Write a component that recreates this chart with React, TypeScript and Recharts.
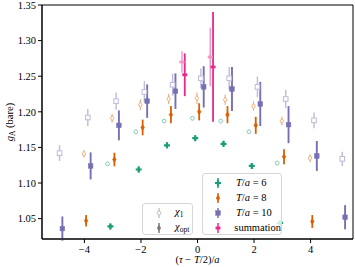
import React from 'react';
import { ScatterChart, Scatter, XAxis, YAxis, ErrorBar, ReferenceArea } from 'recharts';

// x positions are (tau - T/2)/a with the small plotting offsets used in the figure
const t6ChiOneX = [-3.18, -2.18, -1.18, -0.18, 0.82, 1.82, 2.82];
const t6ChiOneY = [1.127, 1.172, 1.187, 1.191, 1.187, 1.172, 1.128];
const t6ChiOneErr = [0.003, 0.003, 0.003, 0.003, 0.003, 0.003, 0.003];
const t6ChiOptX = [-3.08, -2.08, -1.08, -0.08, 0.92, 1.92, 2.92];
const t6ChiOptY = [1.039, 1.119, 1.153, 1.163, 1.155, 1.124, 1.044];
const t6ChiOptErr = [0.004, 0.004, 0.004, 0.004, 0.004, 0.004, 0.004];

const t8ChiOneX = [-4.02, -3.02, -2.02, -1.02, -0.02, 0.98, 1.98, 2.98, 3.98];
const t8ChiOneY = [1.141, 1.191, 1.21, 1.218, 1.219, 1.217, 1.208, 1.187, 1.135];
const t8ChiOneErr = [0.005, 0.006, 0.0075, 0.007, 0.008, 0.007, 0.0065, 0.006, 0.0055];
const t8ChiOptX = [-3.94, -2.94, -1.94, -0.94, 0.06, 1.06, 2.06, 3.06, 4.06];
const t8ChiOptY = [1.047, 1.133, 1.178, 1.196, 1.2, 1.196, 1.181, 1.137, 1.046];
const t8ChiOptErr = [0.008, 0.0095, 0.011, 0.012, 0.012, 0.012, 0.012, 0.0105, 0.009];

const t10ChiOneX = [-4.88, -3.88, -2.88, -1.88, -0.88, 0.12, 1.12, 2.12, 3.12, 4.12, 5.12];
const t10ChiOneY = [1.142, 1.192, 1.215, 1.228, 1.238, 1.247, 1.247, 1.235, 1.218, 1.188, 1.134];
const t10ChiOneErr = [0.011, 0.012, 0.012, 0.015, 0.0155, 0.014, 0.016, 0.0145, 0.013, 0.011, 0.01];
const t10ChiOptX = [-4.78, -3.78, -2.78, -1.78, -0.78, 0.22, 1.22, 2.22, 3.22, 4.22, 5.22];
const t10ChiOptY = [1.036, 1.124, 1.181, 1.215, 1.229, 1.235, 1.232, 1.211, 1.182, 1.138, 1.052];
const t10ChiOptErr = [0.017, 0.019, 0.021, 0.0235, 0.025, 0.029, 0.031, 0.031, 0.026, 0.021, 0.017];

const sumChiOneX = [-0.55, 0.45];
const sumChiOneY = [1.27, 1.277];
const sumChiOneErr = [0.015, 0.041];
const sumChiOptX = [-0.45, 0.55];
const sumChiOptY = [1.252, 1.263];
const sumChiOptErr = [0.03, 0.077];

const xTicks = [-4, -2, 0, 2, 4];
const yTicks = [1.05, 1.1, 1.15, 1.2, 1.25, 1.3, 1.35];

const SERIF = '"Liberation Serif", "DejaVu Serif", serif';

const toPoints = (xs: number[], ys: number[], es: number[]) =>
  xs.map((x, i) => ({ x, y: ys[i], e: es[i] }));

type MarkerKind = 'plus' | 'circle' | 'diamond' | 'square' | 'rect';

const Marker = ({ cx, cy, kind, color, open }: { cx: number; cy: number; kind: MarkerKind; color: string; open?: boolean }) => {
  const fill = open ? '#fff' : color;
  const sw = open ? 1 : 0;
  if (kind === 'plus') {
    const a = 3, b = 1.1;
    const d = `M${cx - b},${cy - a}H${cx + b}V${cy - b}H${cx + a}V${cy + b}H${cx + b}V${cy + a}H${cx - b}V${cy + b}H${cx - a}V${cy - b}H${cx - b}Z`;
    return <path d={d} fill={color} />;
  }
  if (kind === 'circle') return <circle cx={cx} cy={cy} r={1.9} fill={fill} stroke={color} strokeWidth={sw || 1} />;
  if (kind === 'diamond') {
    const d = `M${cx},${cy - 2.7}L${cx + 1.8},${cy}L${cx},${cy + 2.7}L${cx - 1.8},${cy}Z`;
    return <path d={d} fill={fill} stroke={color} strokeWidth={sw || 0.6} />;
  }
  if (kind === 'square') return <rect x={cx - 2.3} y={cy - 2.3} width={4.6} height={4.6} fill={fill} stroke={color} strokeWidth={sw || 0.5} />;
  return <rect x={cx - 2.5} y={cy - 1.4} width={5} height={2.8} fill={color} />;
};

const series = [
  { key: 't6a', data: toPoints(t6ChiOneX, t6ChiOneY, t6ChiOneErr), kind: 'circle', color: '#8dcebb', open: true, bw: 1.2 },
  { key: 't8a', data: toPoints(t8ChiOneX, t8ChiOneY, t8ChiOneErr), kind: 'diamond', color: '#ecaf80', open: true, bw: 1.2 },
  { key: 't10a', data: toPoints(t10ChiOneX, t10ChiOneY, t10ChiOneErr), kind: 'square', color: '#bdbadb', open: true, bw: 1.4 },
  { key: 'suma', data: toPoints(sumChiOneX, sumChiOneY, sumChiOneErr), kind: 'rect', color: '#f394c4', open: false, bw: 1.4 },
  { key: 't6b', data: toPoints(t6ChiOptX, t6ChiOptY, t6ChiOptErr), kind: 'plus', color: '#1b9e77', open: false, bw: 1.6 },
  { key: 't8b', data: toPoints(t8ChiOptX, t8ChiOptY, t8ChiOptErr), kind: 'diamond', color: '#d95f02', open: false, bw: 1.8 },
  { key: 't10b', data: toPoints(t10ChiOptX, t10ChiOptY, t10ChiOptErr), kind: 'square', color: '#7570b3', open: false, bw: 1.9 },
  { key: 'sumb', data: toPoints(sumChiOptX, sumChiOptY, sumChiOptErr), kind: 'rect', color: '#e7298a', open: false, bw: 1.8 },
] as const;

const fmtX = (v: number) => (v < 0 ? `\u2212${Math.abs(v)}` : String(v));

const renderYLabel = () => (
  <text x={0} y={0} transform="translate(13,122) rotate(-90)" textAnchor="middle" fontFamily={SERIF} fontSize={10.5} fill="#000">
    <tspan fontStyle="italic">g</tspan>
    <tspan fontSize={7.5} dy={2}>A</tspan>
    <tspan dy={-2}> (bare)</tspan>
  </text>
);

const renderXLabel = () => (
  <text x={197.5} y={263} textAnchor="middle" fontFamily={SERIF} fontSize={10.5} fill="#000">
    (<tspan fontStyle="italic">τ</tspan> − <tspan fontStyle="italic">T</tspan>/2)/<tspan fontStyle="italic">a</tspan>
  </text>
);

const LegendIcon = ({ kind, color, open }: { kind: MarkerKind; color: string; open?: boolean }) => (
  <svg width={14} height={12} style={{ display: 'block' }}>
    <line x1={7} y1={1} x2={7} y2={11} stroke={color} strokeWidth={1.5} />
    <Marker cx={7} cy={6} kind={kind} color={color} open={open} />
  </svg>
);

const boxStyle: React.CSSProperties = {
  position: 'absolute',
  background: 'rgba(255,255,255,0.8)',
  border: '1px solid #d6d6d6',
  borderRadius: 3,
  fontFamily: SERIF,
  fontSize: 10.5,
  color: '#000',
  boxSizing: 'border-box',
};

const rowStyle: React.CSSProperties = { display: 'flex', alignItems: 'center', height: 15 };

export default function App() {
  return (
    <div style={{ position: 'absolute', left: 0, top: 0, width: 355, height: 267, background: '#fff' }}>
      <ScatterChart width={355} height={267} margin={{ top: 5, right: 2, bottom: 0, left: 0 }}>
        <XAxis
          type="number"
          dataKey="x"
          domain={[-5.5, 5.5]}
          ticks={xTicks}
          tickFormatter={fmtX}
          allowDataOverflow
          height={28}
          tickSize={4}
          tickMargin={3}
          stroke="#000"
          tick={{ fontSize: 10.5, fontFamily: SERIF, fill: '#000' }}
          label={renderXLabel}
        />
        <YAxis
          type="number"
          dataKey="y"
          domain={[1.0214, 1.35]}
          ticks={yTicks}
          tickFormatter={(v: number) => v.toFixed(2)}
          allowDataOverflow
          width={42}
          tickSize={4}
          tickMargin={2}
          stroke="#000"
          tick={{ fontSize: 10.5, fontFamily: SERIF, fill: '#000' }}
          label={renderYLabel}
        />
        <ReferenceArea x1={-5.5} x2={5.5} y1={1.0214} y2={1.35} fill="none" stroke="#000" strokeWidth={1} fillOpacity={0} />
        {series.map((s) => (
          <Scatter
            key={s.key}
            data={s.data as any}
            isAnimationActive={false}
            shape={(p: any) => <Marker cx={p.cx} cy={p.cy} kind={s.kind} color={s.color} open={s.open} />}
          >
            <ErrorBar dataKey="e" direction="y" width={0} stroke={s.color} strokeWidth={s.bw} isAnimationActive={false} />
          </Scatter>
        ))}
      </ScatterChart>

      <div style={{ ...boxStyle, left: 142, top: 203, width: 51, height: 32, padding: '1px 0 0 9px' }}>
        <div style={rowStyle}>
          <LegendIcon kind="circle" color="#c4c4c4" open />
          <span style={{ marginLeft: 9 }}>
            <i>χ</i>
            <span style={{ fontSize: 7.5, verticalAlign: -2 }}>1</span>
          </span>
        </div>
        <div style={rowStyle}>
          <LegendIcon kind="diamond" color="#7a7a7a" />
          <span style={{ marginLeft: 9 }}>
            <i>χ</i>
            <span style={{ fontSize: 7.5, verticalAlign: -2 }}>opt</span>
          </span>
        </div>
      </div>

      <div style={{ ...boxStyle, left: 202, top: 173, width: 80, height: 62, padding: '1px 0 0 8px' }}>
        <div style={rowStyle}>
          <LegendIcon kind="plus" color="#1b9e77" />
          <span style={{ marginLeft: 11 }}><i>T</i>/<i>a</i> = 6</span>
        </div>
        <div style={rowStyle}>
          <LegendIcon kind="diamond" color="#d95f02" />
          <span style={{ marginLeft: 11 }}><i>T</i>/<i>a</i> = 8</span>
        </div>
        <div style={rowStyle}>
          <LegendIcon kind="square" color="#7570b3" />
          <span style={{ marginLeft: 11 }}><i>T</i>/<i>a</i> = 10</span>
        </div>
        <div style={rowStyle}>
          <LegendIcon kind="rect" color="#e7298a" />
          <span style={{ marginLeft: 11 }}>summation</span>
        </div>
      </div>
    </div>
  );
}
